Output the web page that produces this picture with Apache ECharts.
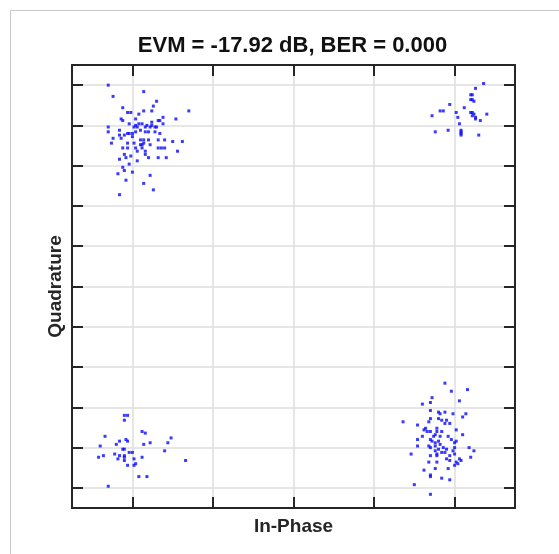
<!DOCTYPE html>
<html>
<head>
<meta charset="utf-8">
<script src="https://cdn.jsdelivr.net/npm/echarts@6/dist/echarts.min.js"></script>
<style>
  html, body { margin: 0; padding: 0; background: #ffffff; }
  #chart { width: 559px; height: 554px; }
</style>
</head>
<body>
<div id="chart"></div>
<script>
// Received QPSK symbols, [In-Phase, Quadrature], grouped by constellation point
const symbolsUpperLeft = [
  [-1.15,1.25],[-1.12,1.18],[-0.93,1.21],[-0.85,1.15],[-1.06,1.11],[-0.87,1.12],[-0.88,1.09],[-0.65,1.09],
  [-1.03,1.08],[-1.01,1.08],[-0.96,1.07],[-0.93,1.09],[-0.98,1.04],[-1.07,1.04],[-1.06,1.03],[-0.81,1.05],
  [-0.84,1.03],[-0.83,1.03],[-0.73,1.04],[-0.88,1.02],[-0.81,1.01],[-1.02,1.01],[-0.98,1.00],[-0.96,1.01],
  [-0.94,1.01],[-0.91,1.00],[-1.15,0.99],[-0.99,0.99],[-0.97,0.99],[-0.92,0.99],[-0.88,1.00],[-0.86,0.99],
  [-0.85,0.99],[-0.89,0.99],[-1.15,0.96],[-1.08,0.97],[-1.02,0.95],[-1.00,0.95],[-1.03,0.95],[-0.98,0.96],
  [-0.95,0.97],[-0.92,0.96],[-0.90,0.96],[-0.86,0.96],[-0.83,0.95],[-1.08,0.94],[-1.00,0.93],[-1.07,0.92],
  [-1.05,0.94],[-1.12,0.92],[-0.95,0.91],[-0.93,0.91],[-0.90,0.91],[-0.84,0.91],[-0.80,0.91],[-0.75,0.90],
  [-0.69,0.90],[-1.13,0.89],[-1.03,0.89],[-0.95,0.88],[-0.94,0.88],[-0.99,0.89],[-0.93,0.89],[-0.89,0.88],
  [-1.06,0.86],[-1.03,0.86],[-0.98,0.86],[-0.94,0.86],[-0.84,0.86],[-0.82,0.86],[-0.80,0.86],[-0.72,0.84],
  [-0.97,0.84],[-0.92,0.84],[-1.05,0.82],[-1.04,0.80],[-1.01,0.81],[-0.92,0.82],[-0.84,0.80],[-0.79,0.80],
  [-1.08,0.79],[-0.90,0.80],[-0.97,0.78],[-1.02,0.76],[-1.05,0.72],[-1.06,0.74],[-1.09,0.70],[-1.00,0.71],
  [-0.89,0.69],[-1.04,0.66],[-0.93,0.64],[-0.87,0.60],[-1.08,0.57]
];
const symbolsUpperRight = [
  [1.18,1.26],[1.13,1.23],[1.10,1.19],[1.11,1.19],[1.10,1.16],[1.11,1.16],[1.12,1.15],[0.97,1.13],
  [1.06,1.11],[0.91,1.09],[0.93,1.09],[0.86,1.06],[1.01,1.08],[1.10,1.08],[1.11,1.08],[1.12,1.07],
  [1.11,1.06],[1.13,1.05],[1.13,1.04],[1.02,1.05],[1.16,1.03],[1.20,1.07],[1.03,1.01],[0.88,0.96],
  [0.96,0.97],[1.04,0.97],[1.04,0.96],[1.04,0.94],[1.04,0.95],[1.15,0.94]
];
const symbolsLowerLeft = [
  [-1.05,-0.80],[-1.03,-0.80],[-1.05,-0.83],[-0.94,-0.90],[-0.92,-0.91],[-1.17,-0.93],[-0.76,-0.94],
  [-1.20,-0.99],[-1.10,-0.98],[-1.08,-0.96],[-1.04,-0.95],[-1.03,-0.96],[-0.78,-0.97],[-0.89,-0.97],
  [-0.93,-0.98],[-1.06,-1.01],[-1.05,-1.01],[-0.80,-1.02],[-1.18,-1.05],[-1.21,-1.06],[-1.11,-1.04],
  [-1.08,-1.05],[-1.05,-1.05],[-1.05,-1.06],[-1.02,-1.03],[-1.00,-1.03],[-0.94,-1.06],[-1.09,-1.07],
  [-1.05,-1.08],[-0.99,-1.07],[-1.03,-1.11],[-0.99,-1.11],[-0.98,-1.10],[-0.67,-1.08],[-0.96,-1.18],
  [-0.91,-1.18],[-1.15,-1.24]
];
const symbolsLowerRight = [
  [0.94,-0.60],[0.98,-0.65],[1.08,-0.64],[0.86,-0.69],[0.85,-0.72],[0.80,-0.73],[1.03,-0.71],[0.85,-0.77],
  [0.90,-0.78],[0.91,-0.79],[0.94,-0.78],[0.99,-0.79],[1.07,-0.79],[1.05,-0.81],[0.68,-0.84],[0.85,-0.82],
  [0.84,-0.84],[0.90,-0.82],[0.92,-0.83],[0.95,-0.83],[0.97,-0.85],[0.94,-0.85],[0.77,-0.86],[0.82,-0.88],
  [0.81,-0.89],[0.85,-0.90],[0.83,-0.90],[0.89,-0.88],[0.89,-0.90],[0.88,-0.92],[0.91,-0.93],[0.92,-0.90],
  [0.80,-0.93],[0.87,-0.93],[1.01,-0.89],[1.05,-0.92],[0.96,-0.93],[0.98,-0.95],[1.01,-0.96],[0.77,-0.95],
  [0.85,-0.95],[0.86,-0.96],[0.88,-0.97],[0.90,-0.96],[0.91,-0.98],[1.00,-0.97],[0.77,-0.99],[0.84,-0.99],
  [0.85,-1.00],[0.88,-0.99],[0.90,-1.01],[0.93,-1.00],[0.95,-1.01],[0.88,-1.02],[0.92,-1.03],[1.00,-1.00],
  [0.99,-1.02],[1.09,-1.00],[1.12,-1.02],[0.73,-1.04],[0.89,-1.04],[0.89,-1.05],[0.94,-1.03],[0.97,-1.05],
  [1.00,-1.04],[0.85,-1.05],[0.97,-1.08],[1.03,-1.07],[1.04,-1.08],[1.01,-1.09],[1.00,-1.11],[1.10,-1.06],
  [0.84,-1.09],[0.89,-1.09],[0.81,-1.14],[0.88,-1.13],[0.96,-1.13],[0.85,-1.17],[0.85,-1.18],[0.92,-1.19],
  [0.97,-1.20],[0.75,-1.23],[0.85,-1.29],[0.95,-1.07],[1.02,-1.10]
];

// Axis extent and tick positions
const axisLimit = 1.375;
const inPhaseTicks = [-1, -0.5, 0, 0.5, 1];
const quadratureTicks = [-1.25, -1, -0.75, -0.5, -0.25, 0, 0.25, 0.5, 0.75, 1, 1.25];

const titleText = 'EVM = -17.92 dB, BER = 0.000';
const xName = 'In-Phase';
const yName = 'Quadrature';

const FONT = '"Liberation Sans", Arial, Helvetica, sans-serif';
const FRAME = '#262626';
const GRID = '#dedede';

function makeAxis(pos, ticks, withGrid, name) {
  const ax = {
    type: 'value',
    position: pos,
    min: -axisLimit,
    max: axisLimit,
    axisLine: { show: true, onZero: false, lineStyle: { color: FRAME, width: 2 } },
    axisTick: { show: true, inside: true, length: 11, customValues: ticks,
                lineStyle: { color: FRAME, width: 2 } },
    axisLabel: { show: false, customValues: ticks },
    splitLine: { show: withGrid, lineStyle: { color: GRID, width: 1.5 } }
  };
  if (name) {
    ax.name = name;
    ax.nameLocation = 'middle';
    ax.nameTextStyle = { fontFamily: FONT, fontWeight: 'bold', fontSize: 19, color: '#262626' };
  }
  return ax;
}

const chart = echarts.init(document.getElementById('chart'), null, { renderer: 'canvas' });

const xBottom = makeAxis('bottom', inPhaseTicks, true, xName);
xBottom.nameGap = 9;
const yLeft = makeAxis('left', quadratureTicks, true, yName);
yLeft.nameGap = 7;

chart.setOption({
  animation: false,
  backgroundColor: '#ffffff',
  title: {
    text: titleText,
    left: 292.5,
    top: 35,
    padding: 0,
    textAlign: 'center',
    textStyle: { fontFamily: FONT, fontWeight: 'bold', fontSize: 22, color: '#111111' }
  },
  graphic: [{
    type: 'rect',
    shape: { x: 10.5, y: 10.5, width: 700, height: 700 },
    style: { fill: null, stroke: '#c8c8c8', lineWidth: 1 },
    silent: true,
    z: -10
  }],
  grid: { left: 72, top: 65, width: 443, height: 443, containLabel: false },
  xAxis: [xBottom, makeAxis('top', inPhaseTicks, false)],
  yAxis: [yLeft, makeAxis('right', quadratureTicks, false)],
  series: [{
    name: 'Received symbols',
    type: 'scatter',
    xAxisIndex: 0,
    yAxisIndex: 0,
    symbol: 'rect',
    symbolSize: 3,
    itemStyle: { color: '#0a0aff' },
    data: [].concat(symbolsUpperLeft, symbolsUpperRight, symbolsLowerLeft, symbolsLowerRight)
  }]
});
</script>
</body>
</html>
